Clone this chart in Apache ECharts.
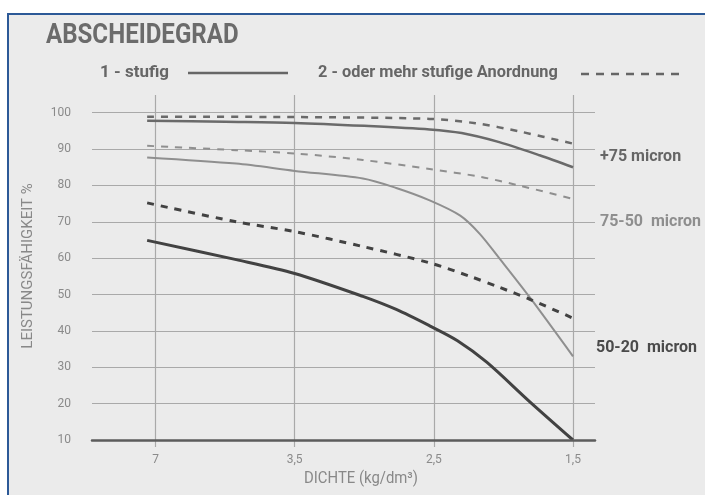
<!DOCTYPE html>
<html>
<head>
<meta charset="utf-8">
<script src="https://cdn.jsdelivr.net/npm/echarts@6/dist/echarts.min.js"></script>
<style>
html,body{margin:0;padding:0;background:#fff;}
#c{width:705px;height:495px;}
</style>
</head>
<body>
<div id="c"></div>
<script>
// ---- data ----
const xTickLabels = ['7', '3,5', '2,5', '1,5'];
// x is the position along the density axis (0 = 7, 1 = 3,5, 2 = 2,5, 3 = 1,5)
const plus75Solid = [[-0.06, 97.8], [0.5, 97.5], [1.0, 97.2], [1.5, 96.4], [1.97, 95.4], [2.2, 94.4], [2.47, 91.9], [2.76, 88.3], [3.0, 85.0]];
const plus75Dashed = [[-0.06, 98.9], [1.0, 98.8], [1.97, 98.3], [2.3, 97.1], [2.62, 94.8], [3.0, 91.5]];
const mid7550Solid = [[-0.06, 87.7], [0.58, 86.0], [1.0, 84.0], [1.49, 81.9], [1.73, 79.3], [1.97, 75.9], [2.19, 71.7], [2.33, 66.7], [2.47, 60.0], [2.69, 49.2], [3.0, 33.0]];
const mid7550Dashed = [[-0.06, 90.9], [0.58, 89.7], [1.0, 88.8], [1.49, 87.0], [1.97, 84.5], [2.33, 82.4], [2.62, 79.9], [3.0, 76.3]];
const low5020Solid = [[-0.06, 64.9], [0.58, 59.6], [1.0, 55.8], [1.49, 49.5], [1.73, 45.9], [1.97, 41.4], [2.17, 37.3], [2.38, 31.4], [2.69, 20.5], [3.0, 10.0]];
const low5020Dashed = [[-0.06, 75.2], [0.58, 70.0], [1.0, 67.3], [1.49, 63.2], [1.97, 58.7], [2.26, 55.0], [2.47, 52.0], [2.69, 48.7], [3.0, 43.5]];

const FONT = 'Roboto, sans-serif';
const GRID_COL = '#a9a9a9';

function mkSeries(name, data, color, width, dashed) {
  return {
    name: name, type: 'line', xAxisIndex: 0, yAxisIndex: 0,
    data: data, showSymbol: false, symbol: 'none',
    smooth: 0.3, silent: true,
    lineStyle: { color: color, width: width, type: dashed ? [7, 7] : 'solid', cap: 'butt' },
    z: 5
  };
}
function txt(s, x, y, size, color, weight, sx, align) {
  return { type: 'text', x: x, y: y, scaleX: sx,
    style: { text: s, x: 0, y: 0, textAlign: align || 'left', textVerticalAlign: 'middle',
      font: (weight || 'normal') + ' ' + size + 'px ' + FONT, fill: color } };
}

const chart = echarts.init(document.getElementById('c'), null, { renderer: 'canvas' });
chart.setOption({
  backgroundColor: '#ebebeb',
  animation: false,
  grid: [
    { left: 92, right: 110, top: 112.7, bottom: 55 },
    { left: 155.5, right: 132, top: 95, bottom: 55 }
  ],
  xAxis: [
    { gridIndex: 0, type: 'value', min: -0.4563, max: 3.1581,
      axisLine: { show: true, lineStyle: { color: '#5c5c5c', width: 2.5 } },
      axisTick: { show: false }, axisLabel: { show: false }, splitLine: { show: false }, z: 10 },
    { gridIndex: 1, type: 'value', min: 0, max: 3, interval: 1,
      axisLine: { show: false },
      axisTick: { show: true, length: 7, lineStyle: { color: GRID_COL, width: 1.2 } },
      axisLabel: { margin: 14, color: '#8a8a8a', fontSize: 12, fontFamily: FONT,
        formatter: function (v) { return xTickLabels[Math.round(v)] || ''; } },
      splitLine: { show: true, lineStyle: { color: GRID_COL, width: 1.2 } } }
  ],
  yAxis: [
    { gridIndex: 0, type: 'value', min: 10, max: 100, interval: 10,
      axisLine: { show: false }, axisTick: { show: false },
      axisLabel: { margin: 21, color: '#8a8a8a', fontSize: 12, fontFamily: FONT },
      splitLine: { show: true, lineStyle: { color: GRID_COL, width: 1.2 } } },
    { gridIndex: 1, type: 'value', min: 10, max: 105, show: false, splitLine: { show: false } }
  ],
  graphic: [
    { type: 'rect', shape: { x: 0, y: 0, width: 705, height: 13 }, style: { fill: '#fff' }, silent: true },
    { type: 'rect', shape: { x: 0, y: 0, width: 7, height: 495 }, style: { fill: '#fff' }, silent: true },
    { type: 'line', shape: { x1: 7, y1: 14, x2: 705, y2: 14 }, style: { stroke: '#2c5997', lineWidth: 2 }, silent: true },
    { type: 'line', shape: { x1: 8, y1: 13, x2: 8, y2: 495 }, style: { stroke: '#2c5997', lineWidth: 2 }, silent: true },
    txt('ABSCHEIDEGRAD', 46, 35.5, 28, '#6b6b6b', 'bold', 0.86),
    txt('1 - stufig', 100, 73, 17, '#666', 'bold', 1.0),
    { type: 'line', shape: { x1: 188, y1: 73, x2: 288, y2: 73 }, style: { stroke: '#666', lineWidth: 2.5 } },
    txt('2 - oder mehr stufige Anordnung', 318, 73, 17, '#666', 'bold', 0.962),
    { type: 'line', shape: { x1: 581, y1: 74, x2: 680, y2: 74 }, style: { stroke: '#666', lineWidth: 2.5, lineDash: [8, 7] } },
    txt('+75 micron', 600, 157, 16, '#666', 'bold', 1.0),
    txt('75-50  micron', 600, 222, 16, '#8e8e8e', 'bold', 1.0),
    txt('50-20  micron', 596, 348, 16, '#4a4a4a', 'bold', 1.0),
    txt('DICHTE (kg/dm³)', 361, 479, 16, '#888', 'normal', 0.93, 'center'),
    { type: 'text', x: 28, y: 266, rotation: Math.PI / 2,
      style: { text: 'LEISTUNGSFÄHIGKEIT %', x: 0, y: 0, textAlign: 'center', textVerticalAlign: 'middle',
        font: '15px ' + FONT, fill: '#888' } }
  ],
  series: [
    mkSeries('+75 1-stufig', plus75Solid, '#6a6a6a', 2.5, false),
    mkSeries('+75 2-stufig', plus75Dashed, '#6a6a6a', 2.5, true),
    mkSeries('75-50 1-stufig', mid7550Solid, '#8f8f8f', 2, false),
    mkSeries('75-50 2-stufig', mid7550Dashed, '#8f8f8f', 2, true),
    mkSeries('50-20 1-stufig', low5020Solid, '#424242', 3, false),
    mkSeries('50-20 2-stufig', low5020Dashed, '#424242', 3, true)
  ]
});
</script>
</body>
</html>
